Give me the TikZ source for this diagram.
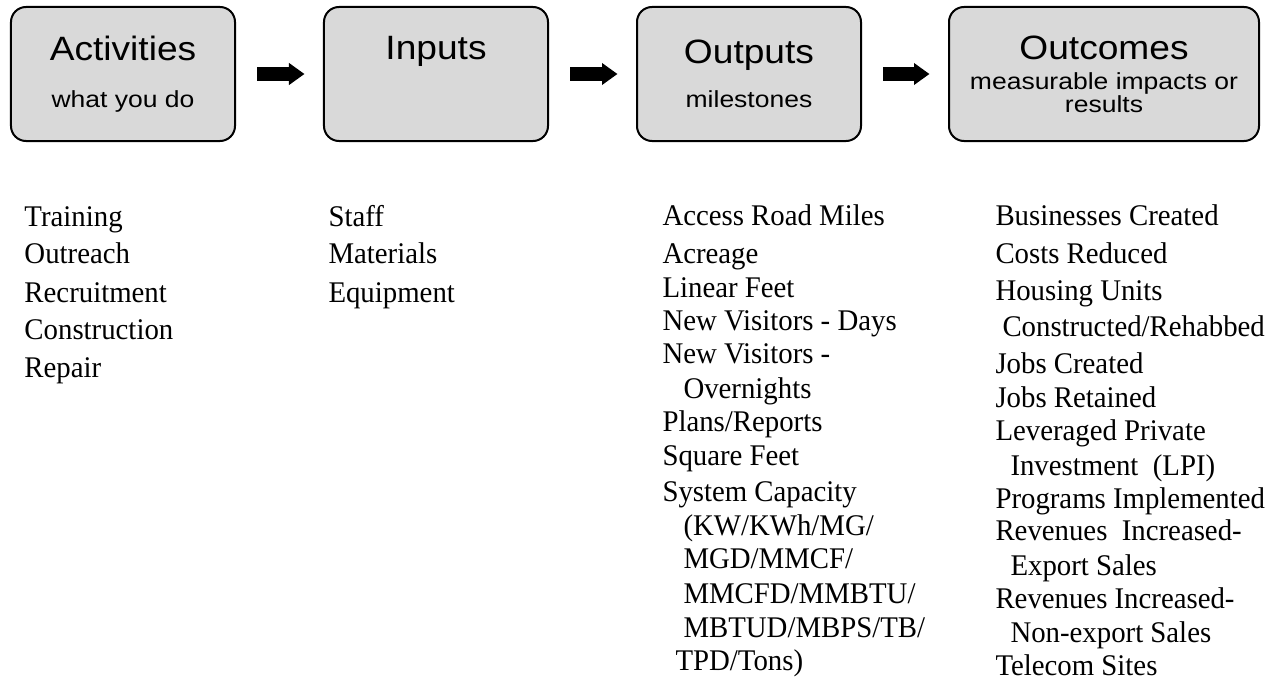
\documentclass[tikz,border=0pt]{standalone}
\usepackage{fontspec}
\setmainfont{Liberation Serif}[FakeStretch=0.96]
\newfontfamily\titlefont{Liberation Sans}[FakeStretch=1.1]
\newfontfamily\subfont{Liberation Sans}[FakeStretch=1.14]
\usetikzlibrary{arrows.meta, positioning, calc}
\definecolor{stagegray}{RGB}{217, 217, 217}
\newcommand{\stagesub}[1]{{\subfont\fontsize{9.3}{9.1}\selectfont #1}}

\begin{document}
\begin{tikzpicture}[x=0.4pt, y=-0.4pt,
  stage/.style={draw=black, line width=0.8pt, fill=stagegray, rounded corners=6pt, minimum width=89.6pt, minimum height=53.6pt, align=center, inner sep=0pt, font=\titlefont\fontsize{13.5}{12}\selectfont},
  flow/.style={line width=5.6pt, -{Triangle[length=6.2pt, width=8.4pt]}, shorten <=8.4pt, shorten >=7.4pt},
  item/.style={anchor=base west, inner sep=0pt, font=\fontsize{12}{14}\selectfont}
]
  \useasboundingbox (0,0) rectangle (1269,680);

  % Stages
  \node[stage] (act) at (123,74) {Activities\\[7pt]\stagesub{what you do}};
  \node[stage] (inp) at (436,74) {Inputs\\[7pt]\stagesub{\vphantom{what you do}}};
  \node[stage] (out) at (749,74) {Outputs\\[5.6pt]\stagesub{milestones}};
  \node[stage, minimum width=124pt] (res) at (1104,74) {Outcomes\\\stagesub{measurable impacts or}\\[-2.9pt]\stagesub{results}};

  \draw[flow] (act) -- (inp);
  \draw[flow] (inp) -- (out);
  \draw[flow] (out) -- (res);

  % Lists under the stages
  \foreach \y/\txt [count=\i] in {226/Training, 263/Outreach, 302/Recruitment, 339/Construction, 377/Repair}
    \node[item] (act\i) at (24,\y) {\txt};

  \foreach \y/\txt [count=\i] in {226/Staff, 263/Materials, 302/Equipment}
    \node[item] (inp\i) at (328,\y) {\txt};

  \foreach \dx/\y/\txt [count=\i] in {0/225/{Access Road Miles}, 0/263/Acreage, 0/297/{Linear Feet},
      0/330/{New Visitors - Days}, 0/363/{New Visitors -}, 21/398/Overnights, 0/431/{Plans/Reports},
      0/465/{Square Feet}, 0/501/{System Capacity}, 21/535/{(KW/KWh/MG/}, 21/568/{MGD/MMCF/},
      21/603/{MMCFD/MMBTU/}, 21/637/{MBTUD/MBPS/TB/}, 13/670/{TPD/Tons)}}
    \node[item] (out\i) at (662+\dx,\y) {\txt};

  \foreach \dx/\y/\txt [count=\i] in {0/225/{Businesses Created}, 0/263/{Costs Reduced}, 0/300/{Housing Units},
      7/336/{Constructed/Rehabbed}, 0/373/{Jobs Created}, 0/407/{Jobs Retained}, 0/440/{Leveraged Private},
      15/475/{Investment\ \ (LPI)}, 0/508/{Programs Implemented}, 0/540/{Revenues\ \ Increased-},
      15/575/{Export Sales}, 0/608/{Revenues Increased-}, 15/642/{Non-export Sales}, 0/675/{Telecom Sites}}
    \node[item] (res\i) at (995+\dx,\y) {\txt};
\end{tikzpicture}
\end{document}
